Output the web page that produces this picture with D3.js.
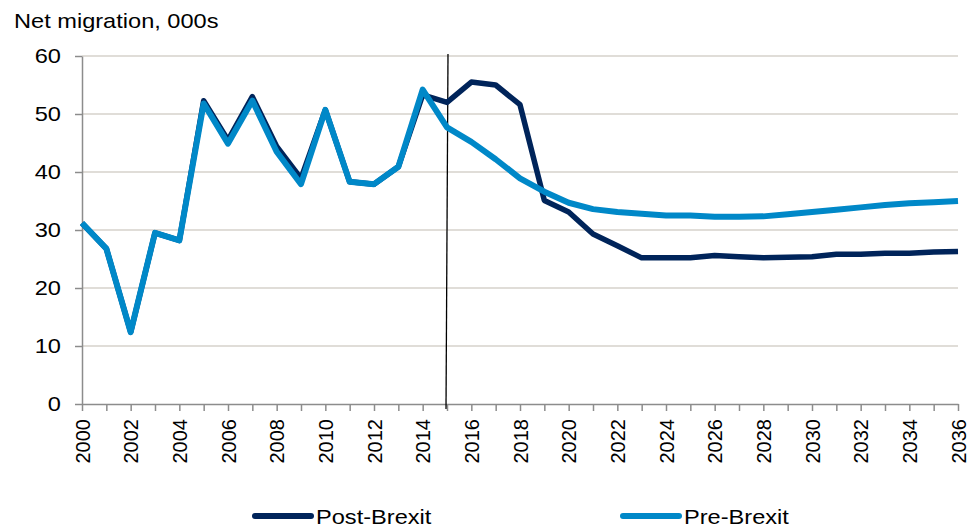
<!DOCTYPE html>
<html>
<head>
<meta charset="utf-8">
<script src="https://cdn.jsdelivr.net/npm/d3@7"></script>
<style>
  html, body { margin: 0; padding: 0; background: #fff; }
  svg { display: block; font-family: "Liberation Sans", Arial, sans-serif; }
</style>
</head>
<body>
<svg id="chart" width="978" height="532"></svg>
<script>
// Net migration projections, thousands per year
const years = d3.range(2000, 2037);
const postBrexit = [
  31.2, 26.8, 12.4, 29.5, 28.2, 52.3, 45.5, 53.0, 44.4, 38.9,
  50.7, 38.3, 37.9, 40.9, 53.3, 52.0, 55.5, 55.0, 51.6, 35.1,
  33.1, 29.3, 27.3, 25.2, 25.2, 25.2, 25.6, 25.4, 25.2, 25.3,
  25.4, 25.8, 25.8, 26.0, 26.0, 26.2, 26.3
];
const preBrexit = [
  31.2, 26.8, 12.4, 29.5, 28.2, 51.8, 44.9, 52.3, 43.5, 37.9,
  50.7, 38.3, 37.9, 40.9, 54.2, 47.7, 45.2, 42.2, 38.9, 36.6,
  34.7, 33.6, 33.1, 32.8, 32.5, 32.5, 32.3, 32.3, 32.35, 32.7,
  33.1, 33.5, 33.9, 34.3, 34.6, 34.8, 35.0
];
const yTicks = [0, 10, 20, 30, 40, 50, 60];
const xLabelYears = d3.range(2000, 2037, 2);
const referendumYear = 2015;
const seriesNames = ["Post-Brexit", "Pre-Brexit"];
const seriesColors = ["#00245a", "#0088c8"];

const svg = d3.select("#chart");
const margin = { left: 82, right: 20, top: 56, bottom: 128 };
const W = 978, H = 532;
const wide = "scale(1.18,1)"; // horizontal labels are set slightly wide

const x = d3.scaleLinear().domain([2000, 2036]).range([margin.left, W - margin.right]);
const y = d3.scaleLinear().domain([0, 60]).range([H - margin.bottom, margin.top]);

// Horizontal gridlines
svg.append("g")
  .selectAll("line")
  .data(yTicks.filter(d => d > 0))
  .join("line")
  .attr("x1", x(2000)).attr("x2", x(2036))
  .attr("y1", d => y(d)).attr("y2", d => y(d))
  .attr("stroke", "#d6d2cb").attr("stroke-width", 1.3);

// Y axis
const yAxis = svg.append("g")
  .attr("transform", `translate(${x(2000)},0)`)
  .call(d3.axisLeft(y).tickValues(yTicks).tickSize(7).tickSizeOuter(0));
yAxis.select(".domain").attr("stroke", "#8c8c8c").attr("stroke-width", 1.5);
yAxis.selectAll(".tick line").attr("stroke", "#8c8c8c").attr("stroke-width", 1.5);
yAxis.selectAll(".tick text")
  .attr("font-size", 20).attr("fill", "#000")
  .attr("font-family", "Liberation Sans, Arial, sans-serif")
  .attr("text-anchor", "end")
  .attr("x", 0)
  .attr("transform", `translate(-21,0) ${wide}`);

// X axis: a tick every year, labels every other year
const xAxis = svg.append("g")
  .attr("transform", `translate(0,${y(0)})`)
  .call(d3.axisBottom(x).tickValues(years).tickSize(7).tickFormat(d => xLabelYears.includes(d) ? String(d) : "").tickSizeOuter(0));
xAxis.select(".domain").attr("stroke", "#8c8c8c").attr("stroke-width", 1.5);
xAxis.selectAll(".tick line").attr("stroke", "#8c8c8c").attr("stroke-width", 1.5);
xAxis.selectAll(".tick text")
  .attr("font-size", 20).attr("fill", "#000")
  .attr("font-family", "Liberation Sans, Arial, sans-serif")
  .attr("text-anchor", "end")
  .attr("transform", "rotate(-90)")
  .attr("x", -15).attr("y", 0).attr("dy", "0.35em");

// Referendum marker
svg.append("line")
  .attr("x1", x(referendumYear) + 1).attr("y1", y(60) - 2)
  .attr("x2", x(referendumYear) - 1).attr("y2", y(0) + 5)
  .attr("stroke", "#000").attr("stroke-width", 1.3);

// Series lines
const line = d3.line().x((d, i) => x(years[i])).y(d => y(d));
const seriesData = [postBrexit, preBrexit];
const widths = [5.5, 6];
seriesData.forEach((vals, i) => {
  svg.append("path")
    .datum(vals)
    .attr("d", line)
    .attr("fill", "none")
    .attr("stroke", seriesColors[i])
    .attr("stroke-width", widths[i])
    .attr("stroke-linejoin", "round");
});

// Axis title
svg.append("text")
  .attr("transform", `translate(14,28) ${wide}`)
  .attr("font-size", 20).attr("fill", "#000")
  .text("Net migration, 000s");

// Legend
const legendX = [255, 623];
const legend = svg.append("g");
seriesNames.forEach((name, i) => {
  legend.append("line")
    .attr("x1", legendX[i]).attr("x2", legendX[i] + 56)
    .attr("y1", 516).attr("y2", 516)
    .attr("stroke", seriesColors[i]).attr("stroke-width", 6)
    .attr("stroke-linecap", "round");
  legend.append("text")
    .attr("transform", `translate(${legendX[i] + 61},523.5) ${wide}`)
    .attr("font-size", 20).attr("fill", "#000")
    .text(name);
});
</script>
</body>
</html>
